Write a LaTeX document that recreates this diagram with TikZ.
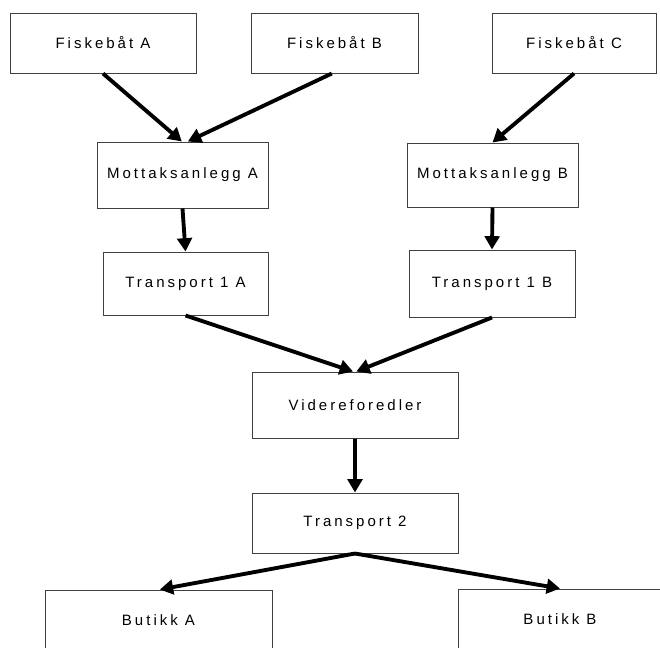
\documentclass[tikz,border=0pt]{standalone}
\usepackage{fontspec}
\setmainfont{Liberation Sans}[LetterSpace=20]
\usetikzlibrary{arrows.meta}

\begin{document}
\begin{tikzpicture}[x=0.75pt, y=-0.75pt,
  boks/.style={draw=black!75, line width=0.75pt, fill=white, inner sep=0pt,
    font=\fontsize{11.25}{13}\selectfont},
  pil/.style={-{Triangle[length=10pt,width=11pt]}, line width=2.9pt}]
\clip (0,0) rectangle (660,647);
\fill [white] (0,0) rectangle (660,647);
\node [boks, minimum width=139.5pt, minimum height=45pt] (fa) at (103,43) {Fiskebåt A};
\node [boks, minimum width=125.25pt, minimum height=45pt] (fb) at (334.5,43) {Fiskebåt B};
\node [boks, minimum width=123pt, minimum height=45pt] (fc) at (574,43) {Fiskebåt C};
\node [boks, minimum width=128.25pt, minimum height=49.5pt] (ma) at (182.5,175) {Mottaksanlegg A};
\node [boks, minimum width=128.25pt, minimum height=48pt] (mb) at (492.5,175) {Mottaksanlegg B};
\node [boks, minimum width=123.75pt, minimum height=47.25pt] (ta) at (185.5,283.5) {Transport 1 A};
\node [boks, minimum width=124.5pt, minimum height=50.25pt] (tb) at (492,283.5) {Transport 1 B};
\node [boks, minimum width=154.5pt, minimum height=49.5pt] (vf) at (355,405) {Videreforedler};
\node [boks, minimum width=154.5pt, minimum height=45pt] (t2) at (355,523) {Transport 2};
\node [boks, minimum width=170.25pt, minimum height=45pt] (ba) at (158.5,620) {Butikk A};
\node [boks, minimum width=153pt, minimum height=45pt] (bb) at (560,619) {Butikk B};

\draw [pil] (fa.south) -- ([xshift=-0.5pt]ma.north);
\draw [pil] ([xshift=-2pt]fb.south) -- ([xshift=4pt]ma.north);
\draw [pil] (fc.south) -- (mb.north);
\draw [pil] (ma.south) -- (ta.north);
\draw [pil] (mb.south) -- (tb.north);
\draw [pil] (ta.south) -- ([xshift=-1.5pt]vf.north);
\draw [pil] (tb.south) -- ([xshift=1pt]vf.north);
\draw [pil] (vf.south) -- (t2.north);
\draw [pil] (t2.south) -- ([xshift=1pt]ba.north);
\draw [pil] (t2.south) -- (bb.north);
\end{tikzpicture}
\end{document}
